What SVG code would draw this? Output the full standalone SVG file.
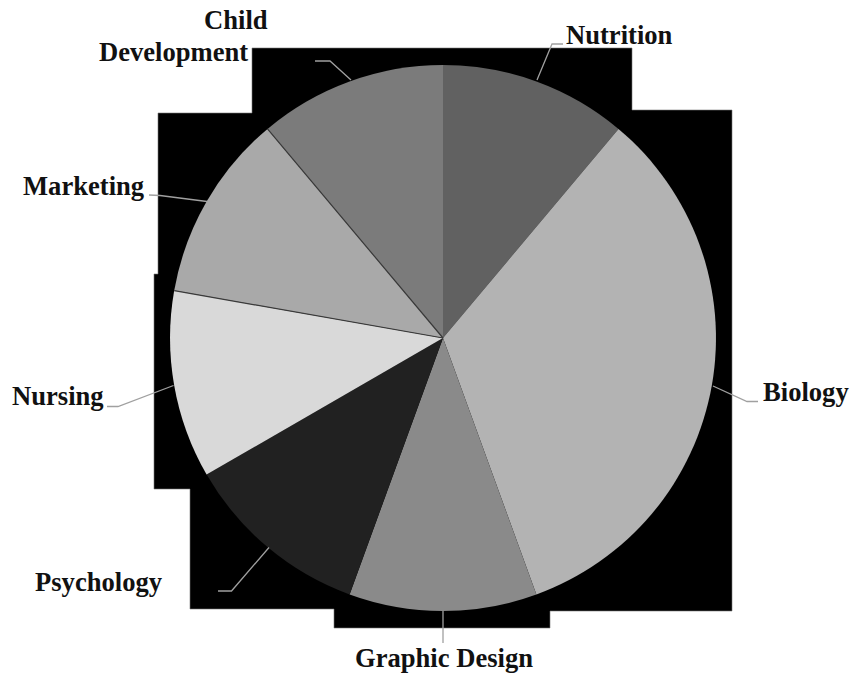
<svg xmlns="http://www.w3.org/2000/svg" width="853" height="676" viewBox="0 0 853 676">
<style>
.lbl{font-family:"Liberation Serif","Times New Roman",serif;font-weight:bold;font-size:26.6px;fill:#111}
.lead{fill:none;stroke:#a0a0a0;stroke-width:1.3}
.sep{stroke:#3a3a3a;stroke-width:1.2}
</style>
<rect width="853" height="676" fill="#fff"/>
<path id="backdrop" d="M252,48 L632,48 L632,110 L732,110 L732,611 L550,611 L550,628 L334,628 L334,609 L190,609 L190,489 L154,489 L154,274 L158,274 L158,113 L252,113 Z" fill="#000" stroke="#777" stroke-width="0.6"/>
<g id="slices">
<g id="slice-nutrition"><path d="M443,338 L443,65 A273,273 0 0 1 618.5,128.9 Z" fill="#616161"/></g>
<g id="slice-biology"><path d="M443,338 L618.5,128.9 A273,273 0 0 1 536.4,594.5 Z" fill="#b3b3b3"/></g>
<g id="slice-graphic-design"><path d="M443,338 L536.4,594.5 A273,273 0 0 1 349.6,594.5 Z" fill="#8a8a8a"/></g>
<g id="slice-psychology"><path d="M443,338 L349.6,594.5 A273,273 0 0 1 206.6,474.5 Z" fill="#212121"/></g>
<g id="slice-nursing"><path d="M443,338 L206.6,474.5 A273,273 0 0 1 174.2,290.6 Z" fill="#d9d9d9"/></g>
<g id="slice-marketing"><path d="M443,338 L174.2,290.6 A273,273 0 0 1 267.5,128.9 Z" fill="#a9a9a9"/></g>
<g id="slice-child-development"><path d="M443,338 L267.5,128.9 A273,273 0 0 1 443,65 Z" fill="#7b7b7b"/></g>
<line class="sep" x1="443" y1="338" x2="174.2" y2="290.6"/>
<line class="sep" x1="443" y1="338" x2="267.5" y2="128.9"/>
</g>
<g id="connectors">
<path class="lead" d="M537,80 L552,44 L563,44"/>
<path class="lead" d="M713,386 L747,401.5 L758,401.5"/>
<path class="lead" d="M443,611 L443,643"/>
<path class="lead" d="M269,547.5 L231.5,591 L218,591"/>
<path class="lead" d="M173.5,385.5 L118,406.5 L107,406.5"/>
<path class="lead" d="M207,201.5 L160,195.5 L149,195"/>
<path class="lead" d="M351,80 L330,61 L315,61"/>
</g>
<g id="label-nutrition"><text class="lbl" x="566" y="44">Nutrition</text></g>
<g id="label-biology"><text class="lbl" x="763" y="401">Biology</text></g>
<g id="label-graphic-design"><text class="lbl" x="355" y="667">Graphic Design</text></g>
<g id="label-psychology"><text class="lbl" x="35" y="591">Psychology</text></g>
<g id="label-nursing"><text class="lbl" x="12" y="405">Nursing</text></g>
<g id="label-marketing"><text class="lbl" x="23" y="195">Marketing</text></g>
<g id="label-child-development"><text class="lbl" x="204" y="29">Child</text><text class="lbl" x="99" y="61">Development</text></g>
</svg>
